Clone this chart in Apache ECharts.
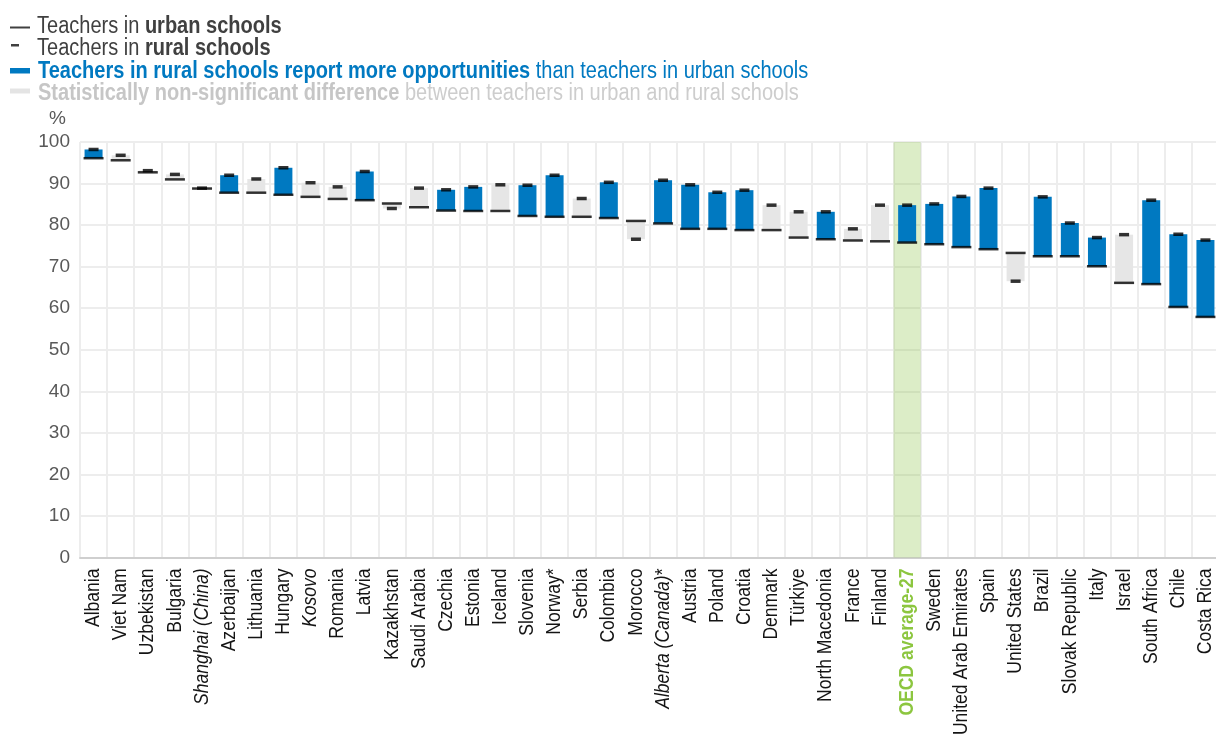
<!DOCTYPE html>
<html>
<head>
<meta charset="utf-8">
<script src="https://cdn.jsdelivr.net/npm/echarts@6/dist/echarts.min.js"></script>
<style>
html,body{margin:0;padding:0;background:#fff;}
#chart{width:1216px;height:734px;}
</style>
</head>
<body>
<div id="chart"></div>
<script>
const categories = ['Albania','Viet Nam','Uzbekistan','Bulgaria','Shanghai (China)','Azerbaijan','Lithuania','Hungary','Kosovo','Romania','Latvia','Kazakhstan','Saudi Arabia','Czechia','Estonia','Iceland','Slovenia','Norway*','Serbia','Colombia','Morocco','Alberta (Canada)*','Austria','Poland','Croatia','Denmark','Türkiye','North Macedonia','France','Finland','OECD average-27','Sweden','United Arab Emirates','Spain','United States','Brazil','Slovak Republic','Italy','Israel','South Africa','Chile','Costa Rica'];
const urbanValues = [96.1,95.6,92.7,91.0,88.8,87.8,87.8,87.3,86.8,86.3,86.0,85.2,84.3,83.5,83.4,83.4,82.2,82.0,82.0,81.7,81.0,80.4,79.1,79.1,78.8,78.8,77.0,76.6,76.3,76.1,75.8,75.4,74.7,74.2,73.3,72.5,72.5,70.1,66.1,65.8,60.3,57.9];
const ruralValues = [98.2,96.8,93.1,92.2,88.9,92.0,91.1,93.8,90.2,89.2,92.9,84.0,88.9,88.5,89.2,89.7,89.6,92.0,86.4,90.3,76.6,90.8,89.7,87.9,88.4,84.8,83.2,83.2,79.1,84.8,84.8,85.1,86.9,88.9,66.5,86.8,80.5,77.0,77.7,86.0,77.8,76.4];
const significant = [1,0,0,0,0,1,0,1,0,0,1,0,0,1,1,0,1,1,0,1,0,1,1,1,1,0,0,1,0,0,1,1,1,1,0,1,1,1,0,1,1,1];
const yTicks = {min:0, max:100, interval:10};
const italicCats = ['Shanghai (China)','Kosovo'];
const highlightCat = 'OECD average-27';

const FONT = '"Liberation Sans",Arial,sans-serif';
const BLUE = '#0079c1';
const GREY_BAR = '#e6e6e6';
const NARROW = 0.87;

const baseVals = urbanValues.map((u,i)=>Math.min(u, ruralValues[i]));
const sigVals = urbanValues.map((u,i)=>significant[i] ? +(Math.abs(ruralValues[i]-u)).toFixed(2) : 0);
const nonVals = urbanValues.map((u,i)=>significant[i] ? 0 : +(Math.abs(ruralValues[i]-u)).toFixed(2));
const bandVals = categories.map(c => c === highlightCat ? yTicks.max : '-');

const chart = echarts.init(document.getElementById('chart'), null, {renderer:'canvas'});

const option = {
  animation: false,
  backgroundColor: '#fff',
  textStyle: {fontFamily: FONT},
  grid: {left: 80, top: 142, width: 1139, height: 415.5, containLabel: false, outerBoundsMode: 'none'},
  xAxis: [{
    type: 'category',
    data: categories,
    boundaryGap: true,
    axisLine: {show: true, lineStyle: {color: '#cfcfcf', width: 2}},
    axisTick: {show: false},
    splitLine: {show: true, interval: 0, lineStyle: {color: '#ededed', width: 2}},
    axisLabel: {show: false}
  }, {
    type: 'category', data: categories, show: false, gridIndex: 0
  }],
  yAxis: {
    type: 'value', min: yTicks.min, max: yTicks.max, interval: yTicks.interval,
    name: '%', nameLocation: 'end', nameGap: 14,
    nameTextStyle: {fontFamily: FONT, fontSize: 19, color: '#595959', align: 'right', padding: [0, 14, 0, 0]},
    axisLine: {show: false}, axisTick: {show: false},
    axisLabel: {fontFamily: FONT, fontSize: 19, color: '#595959', margin: 10},
    splitLine: {show: true, lineStyle: {color: '#ededed', width: 2}}
  },
  series: [
    {name: 'band', type: 'bar', xAxisIndex: 1, data: bandVals, barWidth: '100%', silent: true,
     itemStyle: {color: 'rgba(140,195,70,0.3)'}, z: 1},
    {name: 'base', type: 'bar', stack: 'd', data: baseVals, barWidth: 18, itemStyle: {color: 'transparent'}, z: 3, silent: true},
    {name: 'Teachers in rural schools report more opportunities than teachers in urban schools', type: 'bar', stack: 'd', data: sigVals, barWidth: 18, itemStyle: {color: BLUE}, z: 3},
    {name: 'Statistically non-significant difference between teachers in urban and rural schools', type: 'bar', stack: 'd', data: nonVals, barWidth: 18, itemStyle: {color: GREY_BAR}, z: 3},
    {name: 'Teachers in urban schools', type: 'scatter', data: urbanValues, symbol: 'rect', symbolSize: [20, 2.5], itemStyle: {color: '#000'}, z: 5},
    {name: 'Teachers in rural schools', type: 'scatter', data: ruralValues, symbol: 'rect', symbolSize: [10, 3.5], itemStyle: {color: '#000'}, z: 6}
  ]
};
chart.setOption(option);

const LFS = 23;
function legendText(x, y, rich, text) {
  return {type: 'text', x: x, y: y, scaleX: NARROW, z: 10,
    style: {text: text, x: 0, y: 0, verticalAlign: 'middle', align: 'left', rich: rich}};
}
const darkRich = {r: {fontFamily: FONT, fontSize: LFS, fill: '#404040'}, b: {fontFamily: FONT, fontSize: LFS, fontWeight: 'bold', fill: '#404040'}};
const blueRich = {r: {fontFamily: FONT, fontSize: LFS, fill: BLUE}, b: {fontFamily: FONT, fontSize: LFS, fontWeight: 'bold', fill: BLUE}};
const greyRich = {r: {fontFamily: FONT, fontSize: LFS, fill: '#cdcdcd'}, b: {fontFamily: FONT, fontSize: LFS, fontWeight: 'bold', fill: '#c6c6c6'}};

const graphics = [
  {type: 'rect', x: 10, y: 26.5, shape: {width: 20, height: 2}, style: {fill: '#404040'}},
  legendText(37, 27, darkRich, '{r|Teachers in }{b|urban schools}'),
  {type: 'rect', x: 11, y: 44, shape: {width: 8, height: 2.5}, style: {fill: '#404040'}},
  legendText(37, 48.8, darkRich, '{r|Teachers in }{b|rural schools}'),
  {type: 'rect', x: 10, y: 68, shape: {width: 20, height: 5.5}, style: {fill: BLUE}},
  legendText(38, 71.8, blueRich, '{b|Teachers in rural schools report more opportunities}{r| than teachers in urban schools}'),
  {type: 'rect', x: 10, y: 88.5, shape: {width: 20, height: 5}, style: {fill: '#e4e4e4'}},
  legendText(38, 93.8, greyRich, '{b|Statistically non-significant difference}{r| between teachers in urban and rural schools}')
];

// category labels, positioned through the chart's own axis scale
const XFS = 20.5;
const XNARROW = 0.855;
const y0 = chart.convertToPixel({yAxisIndex: 0}, yTicks.min);
categories.forEach(function (c) {
  const x = chart.convertToPixel({xAxisIndex: 0}, c);
  const rich = {
    n: {fontFamily: FONT, fontSize: XFS, fill: '#141414'},
    i: {fontFamily: FONT, fontSize: XFS, fill: '#141414', fontStyle: 'italic'},
    g: {fontFamily: FONT, fontSize: XFS, fill: '#8cc63f', fontWeight: 'bold'}
  };
  let text;
  if (c === highlightCat) text = '{g|' + c + '}';
  else if (italicCats.indexOf(c) >= 0) text = '{i|' + c + '}';
  else if (c === 'Alberta (Canada)*') text = '{i|Alberta (Canada)}{n|*}';
  else text = '{n|' + c + '}';
  graphics.push({type: 'text', x: x, y: y0 + 11, rotation: Math.PI / 2, scaleX: XNARROW, z: 10,
    style: {text: text, x: 0, y: 0, align: 'right', verticalAlign: 'middle', rich: rich}});
});
chart.setOption({graphic: graphics});
</script>
</body>
</html>
